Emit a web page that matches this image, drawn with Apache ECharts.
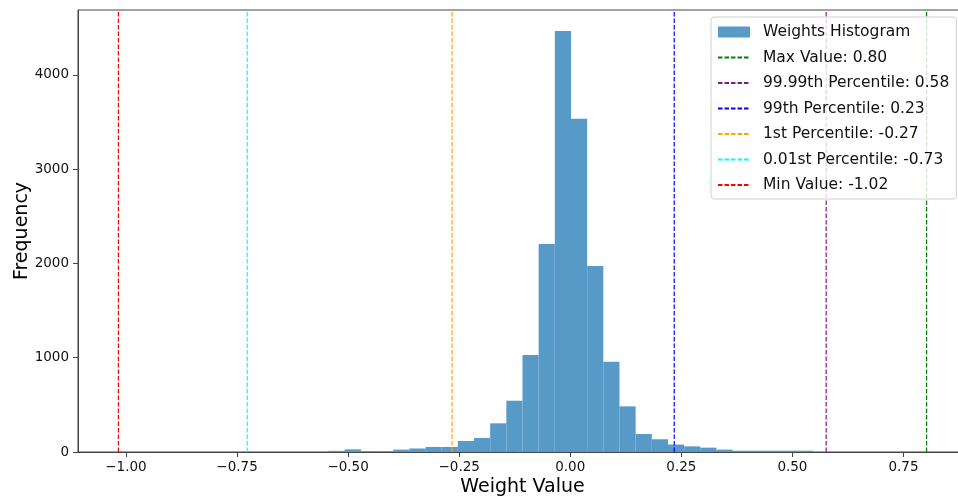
<!DOCTYPE html>
<html>
<head>
<meta charset="utf-8">
<script src="https://cdn.jsdelivr.net/npm/echarts@6/dist/echarts.min.js"></script>
<style>
  html, body { margin: 0; padding: 0; background: #fff; }
  #chart { width: 958px; height: 497px; }
</style>
</head>
<body>
<div id="chart"></div>
<script>
// histogram: 50 equal bins between min and max weight
var minValue = -1.017;
var maxValue = 0.802;
var binCount = 50;
var binCounts = [
    0, 0, 0, 0, 0, 0, 0, 0, 0, 0,
    0, 0, 0, 12, 28, 9, 9, 25, 37, 54,
    54, 117, 148, 304, 544, 1029, 2206, 4464, 3535, 1972,
    958, 484, 191, 135, 79, 60, 46, 25, 14, 14,
    14, 14, 14, 0, 0, 0, 0, 0, 0, 0
];

// reference lines
var lineNames = [
    'Max Value: 0.80',
    '99.99th Percentile: 0.58',
    '99th Percentile: 0.23',
    '1st Percentile: -0.27',
    '0.01st Percentile: -0.73',
    'Min Value: -1.02'
];
var lineValues = [0.802, 0.576, 0.234, -0.266, -0.727, -1.017];
var lineColors = ['#008000', '#8b168b', '#0000ff', '#ffa500', '#00ffff', '#ff0000'];

var xTicks = [-1.0, -0.75, -0.5, -0.25, 0, 0.25, 0.5, 0.75];
var yTicks = [0, 1000, 2000, 3000, 4000];

var font = 'DejaVu Sans';
var binWidth = (maxValue - minValue) / binCount;
var span = maxValue - minValue;
var yMax = Math.max.apply(null, binCounts) * 1.05;

var histData = binCounts.map(function (c, i) {
    return [minValue + i * binWidth, minValue + (i + 1) * binWidth, c];
});

var chartDom = document.getElementById('chart');
var myChart = echarts.init(chartDom);

var series = [{
    name: 'Weights Histogram',
    type: 'custom',
    data: histData,
    encode: { x: [0, 1], y: 2 },
    itemStyle: { color: '#5799c7' },
    renderItem: function (params, api) {
        var p0 = api.coord([api.value(0), api.value(2)]);
        var p1 = api.coord([api.value(1), 0]);
        return {
            type: 'rect',
            shape: { x: p0[0], y: p0[1], width: p1[0] - p0[0], height: p1[1] - p0[1] },
            style: { fill: '#5799c7' }
        };
    },
    z: 2
}];

lineNames.forEach(function (name, i) {
    series.push({
        name: name,
        type: 'line',
        data: [[lineValues[i], 0], [lineValues[i], yMax]],
        symbol: 'none',
        silent: true,
        lineStyle: { color: lineColors[i], width: 1.2, type: [4.5, 2] },
        itemStyle: { color: lineColors[i] },
        z: 3
    });
});

var option = {
    animation: false,
    textStyle: { fontFamily: font },
    grid: {
        left: 78, right: -9, top: 10, bottom: 45,
        outerBoundsMode: 'none',
        containLabel: false,
        show: true, borderColor: '#444', borderWidth: 1
    },
    xAxis: {
        type: 'value',
        min: minValue - span * 0.05,
        max: maxValue + span * 0.05,
        name: 'Weight Value',
        nameLocation: 'middle',
        nameGap: 26,
        nameMoveOverlap: false,
        nameTextStyle: { fontSize: 19, color: '#000', fontFamily: font },
        axisLine: { show: true, onZero: false, lineStyle: { color: '#444', width: 1 } },
        axisTick: { show: true, length: 5, customValues: xTicks, lineStyle: { color: '#444' } },
        axisLabel: {
            customValues: xTicks,
            fontSize: 13.5, color: '#111', fontFamily: font, margin: 8,
            formatter: function (v) { return v.toFixed(2).replace('-', '\u2212'); }
        },
        splitLine: { show: false }
    },
    yAxis: {
        type: 'value',
        min: 0,
        max: yMax,
        name: 'Frequency',
        nameLocation: 'middle',
        nameGap: 46,
        nameMoveOverlap: false,
        nameTextStyle: { fontSize: 19, color: '#000', fontFamily: font },
        axisLine: { show: true, onZero: false, lineStyle: { color: '#444', width: 1 } },
        axisTick: { show: true, length: 5, customValues: yTicks, lineStyle: { color: '#444' } },
        axisLabel: {
            customValues: yTicks,
            fontSize: 13.5, color: '#111', fontFamily: font, margin: 9,
            formatter: function (v) { return String(v); }
        },
        splitLine: { show: false }
    },
    legend: {
        orient: 'vertical',
        left: 711,
        top: 17,
        padding: [7, 7, 6, 6],
        itemWidth: 32,
        itemHeight: 11,
        itemGap: 9.5,
        backgroundColor: 'rgba(255,255,255,0.8)',
        borderColor: '#d0d0d0',
        borderWidth: 1,
        borderRadius: 3,
        itemStyle: { opacity: 0 },
        textStyle: { fontSize: 15.5, color: '#111', fontFamily: font, padding: [0, 0, 0, 8] },
        data: [{ name: 'Weights Histogram', icon: 'rect', itemStyle: { opacity: 1 } }].concat(lineNames)
    },
    series: series
};

option && myChart.setOption(option);
</script>
</body>
</html>
